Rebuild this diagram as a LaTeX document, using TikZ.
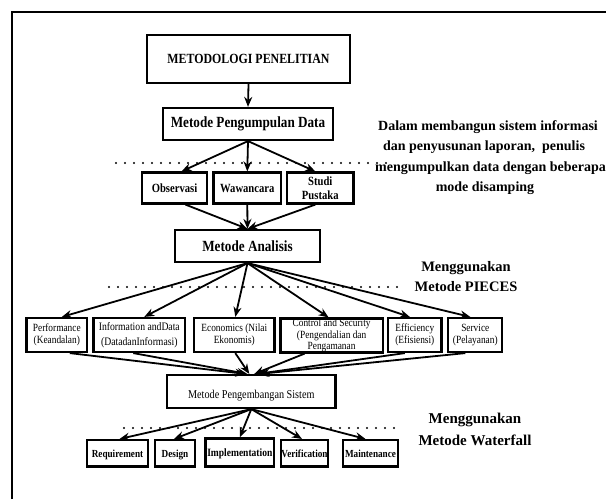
\documentclass[tikz,border=0pt]{standalone}
\usepackage{fontspec}
\setmainfont{Liberation Serif}
\newfontfamily\cf{Liberation Serif}[FakeStretch=0.85]
\usetikzlibrary{arrows.meta}
\begin{document}
\begin{tikzpicture}[x=1pt,y=-1pt,
  bx/.style={draw, line width=2.2pt, inner sep=0pt, align=center},
  bt/.style={font=\cf\bfseries\fontsize{#1}{#1}\selectfont},
  rt/.style={font=\cf\fontsize{#1}{12.2}\selectfont},
  ar/.style={line width=1.8pt, -{Stealth[length=10pt,width=8pt]}},
  dotline/.style={line width=2.4pt, line cap=round, dash pattern=on 0pt off 9pt},
  note/.style={font=\bfseries\fontsize{14}{16}\selectfont, inner sep=0pt},
  lab/.style={font=\bfseries\fontsize{#1}{#1}\selectfont, inner sep=0pt}
]
\useasboundingbox (0,0) rectangle (606,499);
\clip (0,0) rectangle (606,499);
\fill[white] (0,0) rectangle (606,499);
% frame
\draw[line width=2pt] (11.5,499) -- (11.5,11.5) -- (606,11.5);

% top
\node[bx,bt=14,minimum width=203pt,minimum height=48pt] (meto) at (248.5,59) {METODOLOGI PENELITIAN};
\node[bx,bt=15.5,minimum width=170pt,minimum height=32pt] (kump) at (248,124) {Metode Pengumpulan Data};
\node[bx,bt=12.5,minimum width=65pt,minimum height=31pt] (obs) at (174.5,188) {Observasi};
\node[bx,bt=12.5,minimum width=67.5pt,minimum height=31pt] (waw) at (247.3,188) {Wawancara};
\node[bx,font=\cf\bfseries\fontsize{12.5}{13.5}\selectfont,minimum width=66.5pt,minimum height=31pt] (stu) at (320.3,188) {Studi\\Pustaka};
\node[bx,bt=15.5,minimum width=145pt,minimum height=32pt] (ana) at (247.5,246) {Metode Analisis};

% PIECES
\node[bx,rt=11,minimum width=60.5pt,minimum height=34pt] (perf) at (56.8,335) {Performance\\(Keandalan)};
\node[bx,rt=11.4,minimum width=91.5pt,minimum height=34pt] (info) at (139.3,335) {Information andData\\[3pt](DatadanInformasi)};
\node[bx,rt=11,minimum width=80.5pt,minimum height=34pt] (econ) at (234.3,335) {Economics (Nilai\\Ekonomis)};
\node[bx,font=\cf\fontsize{11}{11.3}\selectfont,minimum width=102.2pt,minimum height=34pt] (ctrl) at (331.6,335.5) {Control and Security\\(Pengendalian dan\\Pengamanan};
\node[bx,rt=11,minimum width=53.5pt,minimum height=34pt] (eff) at (414.8,335) {Efficiency\\(Efisiensi)};
\node[bx,rt=11,minimum width=54pt,minimum height=34pt] (serv) at (475.3,335) {Service\\(Pelayanan)};

\node[bx,rt=12,minimum width=168.5pt,minimum height=33pt,text height=16pt,text depth=3pt] (peng) at (251.3,391.5) {Metode Pengembangan Sistem};

% waterfall
\node[bx,bt=10.8,minimum width=61pt,minimum height=26.5pt,text height=9pt,text depth=1pt] (req) at (117.5,453.3) {Requirement};
\node[bx,bt=10.8,minimum width=40pt,minimum height=26.5pt,text height=9pt,text depth=1pt] (des) at (175,453.3) {Design};
\node[bx,bt=11.2,minimum width=68.5pt,minimum height=28pt,text height=11pt,text depth=3pt] (imp) at (239.8,452.5) {Implementation};
\node[bx,bt=10.8,minimum width=47pt,minimum height=26.5pt,text height=9pt,text depth=1pt] (ver) at (304.5,453.3) {Verification};
\node[bx,bt=10.8,minimum width=55pt,minimum height=26.5pt,text height=9pt,text depth=1pt] (mai) at (370.5,453.3) {Maintenance};

% dotted lines
\draw[dotline] (116,163) -- (387,163);
\draw[dotline] (109,287) -- (402,287);
\draw[dotline] (124,428) -- (398,428);

% arrows
\draw[ar] (meto.south) -- (kump.north);
\draw[ar] (kump.south) -- ([xshift=7pt]obs.north);
\draw[ar] (kump.south) -- (waw.north);
\draw[ar] (kump.south) -- ([xshift=-5pt]stu.north);
\draw[ar] ([xshift=11pt]obs.south) -- (ana.north);
\draw[ar] (waw.south) -- (ana.north);
\draw[ar] ([xshift=-5pt]stu.south) -- (ana.north);

\draw[ar] (ana.south) -- ([xshift=5pt]perf.north);
\draw[ar] (ana.south) -- ([xshift=5pt]info.north);
\draw[ar] (ana.south) -- ([xshift=1pt]econ.north);
\draw[ar] (ana.south) -- ([xshift=-3pt]ctrl.north);
\draw[ar] (ana.south) -- ([xshift=-5pt]eff.north);
\draw[ar] (ana.south) -- ([xshift=-5pt]serv.north);

\draw[ar] ([xshift=13pt]perf.south) -- ([xshift=-6pt]peng.north);
\draw[ar] ([xshift=-6pt]info.south) -- ([xshift=-4pt]peng.north);
\draw[ar] ([xshift=1pt]econ.south) -- ([xshift=-2pt]peng.north);
\draw[ar] ([xshift=-27pt]ctrl.south) -- ([xshift=3pt]peng.north);
\draw[ar] ([xshift=-10pt]eff.south) -- ([xshift=6pt]peng.north);
\draw[ar] ([xshift=-10pt]serv.south) -- ([xshift=8pt]peng.north);

\draw[ar] (peng.south) -- ([xshift=2pt]req.north);
\draw[ar] (peng.south) -- ([xshift=-1pt]des.north);
\draw[ar] (peng.south) -- (imp.north);
\draw[ar] (peng.south) -- ([xshift=-2.5pt]ver.north);
\draw[ar] (peng.south) -- ([xshift=-5pt]mai.north);

% notes
\node[note] (n1) at (488,127) {Dalam membangun sistem informasi};
\node[note] (n2) at (484,147) {dan penyusunan laporan,~~penulis};
\node[note,anchor=west] (n3) at (375,168) {mengumpulkan data dengan beberapa};
\node[note] (n4) at (485,188) {mode disamping};

\node[lab=14.5] (p1) at (466,268) {Menggunakan};
\node[lab=14.5] (p2) at (466,287) {Metode PIECES};
\node[lab=15] (w1) at (475,420) {Menggunakan};
\node[lab=15] (w2) at (475,440) {Metode Waterfall};
\end{tikzpicture}
\end{document}
